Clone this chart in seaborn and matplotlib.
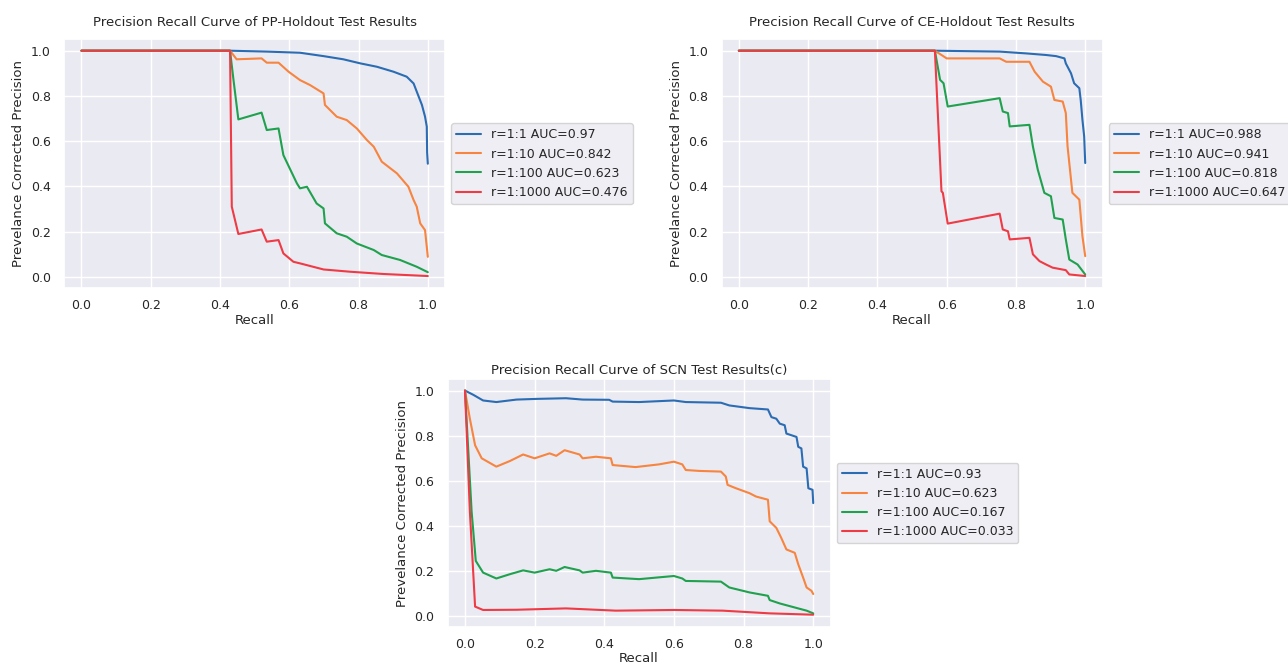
import pandas as pd
import seaborn as sns
import matplotlib.pyplot as plt

# ---- data (recall, precision per ratio) ----
labels_pp = ["r=1:1 AUC=0.97", "r=1:10 AUC=0.842", "r=1:100 AUC=0.623", "r=1:1000 AUC=0.476"]
labels_ce = ["r=1:1 AUC=0.988", "r=1:10 AUC=0.941", "r=1:100 AUC=0.818", "r=1:1000 AUC=0.647"]
labels_scn = ["r=1:1 AUC=0.93", "r=1:10 AUC=0.623", "r=1:100 AUC=0.167", "r=1:1000 AUC=0.033"]

# PP-Holdout
pp_r1_x = [0.0, 0.429, 0.535, 0.631, 0.699, 0.756, 0.805, 0.853, 0.901, 0.939, 0.959, 0.968, 0.983, 0.992, 0.997, 0.998, 1.0]
pp_r1_y = [1.0, 1.0, 0.996, 0.991, 0.976, 0.962, 0.944, 0.929, 0.907, 0.885, 0.855, 0.819, 0.760, 0.708, 0.664, 0.55, 0.50]
pp_r10_x = [0.0, 0.429, 0.448, 0.520, 0.535, 0.569, 0.598, 0.631, 0.660, 0.699, 0.703, 0.737, 0.766, 0.795, 0.824, 0.844,
            0.867, 0.911, 0.944, 0.959, 0.968, 0.978, 0.992, 1.0]
pp_r10_y = [1.0, 1.0, 0.962, 0.966, 0.947, 0.947, 0.907, 0.870, 0.848, 0.811, 0.760, 0.708, 0.693, 0.656, 0.605, 0.575,
            0.509, 0.457, 0.398, 0.339, 0.310, 0.236, 0.206, 0.088]
pp_r100_x = [0.0, 0.429, 0.439, 0.453, 0.520, 0.535, 0.569, 0.583, 0.622, 0.631, 0.651, 0.679, 0.699, 0.703, 0.737, 0.766,
             0.795, 0.844, 0.867, 0.920, 0.968, 1.0]
pp_r100_y = [1.0, 1.0, 0.870, 0.696, 0.726, 0.649, 0.656, 0.538, 0.413, 0.391, 0.398, 0.324, 0.302, 0.236, 0.192, 0.177,
             0.147, 0.118, 0.096, 0.074, 0.044, 0.020]
pp_r1000_x = [0.0, 0.429, 0.434, 0.453, 0.520, 0.535, 0.569, 0.583, 0.612, 0.631, 0.699, 0.776, 0.872, 1.0]
pp_r1000_y = [1.0, 1.0, 0.310, 0.189, 0.209, 0.155, 0.162, 0.103, 0.066, 0.059, 0.032, 0.022, 0.012, 0.003]

# CE-Holdout
ce_r1_x = [0.0, 0.566, 0.753, 0.830, 0.887, 0.916, 0.940, 0.944, 0.959, 0.968, 0.983, 0.987, 0.992, 0.997, 1.0]
ce_r1_y = [1.0, 1.0, 0.996, 0.988, 0.981, 0.976, 0.966, 0.944, 0.900, 0.856, 0.834, 0.782, 0.694, 0.621, 0.503]
ce_r10_x = [0.0, 0.566, 0.600, 0.753, 0.772, 0.839, 0.854, 0.878, 0.901, 0.911, 0.935, 0.944, 0.949, 0.963, 0.983, 0.992, 1.0]
ce_r10_y = [1.0, 1.0, 0.966, 0.966, 0.951, 0.951, 0.907, 0.863, 0.841, 0.782, 0.775, 0.724, 0.577, 0.371, 0.341, 0.179, 0.091]
ce_r100_x = [0.0, 0.566, 0.581, 0.591, 0.603, 0.753, 0.762, 0.777, 0.782, 0.839, 0.849, 0.863, 0.882, 0.901, 0.911, 0.935,
             0.944, 0.954, 0.978, 1.0]
ce_r100_y = [1.0, 1.0, 0.871, 0.856, 0.753, 0.790, 0.731, 0.724, 0.665, 0.672, 0.576, 0.474, 0.371, 0.356, 0.260, 0.253,
             0.165, 0.076, 0.054, 0.010]
ce_r1000_x = [0.0, 0.566, 0.585, 0.589, 0.603, 0.753, 0.762, 0.777, 0.782, 0.839, 0.849, 0.868, 0.887, 0.906, 0.944, 0.954, 1.0]
ce_r1000_y = [1.0, 1.0, 0.378, 0.371, 0.235, 0.279, 0.209, 0.201, 0.165, 0.172, 0.099, 0.069, 0.054, 0.040, 0.029, 0.010, 0.003]

# SCN
scn_r1_x = [0.0, 0.024, 0.052, 0.090, 0.148, 0.205, 0.290, 0.338, 0.414, 0.424, 0.500, 0.600, 0.634, 0.735, 0.759, 0.817,
            0.870, 0.880, 0.894, 0.904, 0.918, 0.923, 0.952, 0.957, 0.966, 0.971, 0.981, 0.986, 0.998, 1.0]
scn_r1_y = [1.0, 0.981, 0.956, 0.949, 0.960, 0.963, 0.966, 0.960, 0.959, 0.951, 0.949, 0.956, 0.949, 0.946, 0.934, 0.922,
            0.916, 0.882, 0.875, 0.853, 0.846, 0.809, 0.794, 0.750, 0.743, 0.662, 0.654, 0.566, 0.559, 0.500]
scn_r10_x = [0.0, 0.014, 0.029, 0.048, 0.090, 0.129, 0.167, 0.200, 0.243, 0.262, 0.286, 0.329, 0.338, 0.376, 0.419, 0.424,
             0.490, 0.557, 0.600, 0.624, 0.634, 0.672, 0.735, 0.749, 0.754, 0.778, 0.817, 0.836, 0.870, 0.875, 0.894,
             0.908, 0.923, 0.947, 0.957, 0.971, 0.981, 0.995, 1.0]
scn_r10_y = [1.0, 0.875, 0.757, 0.699, 0.662, 0.687, 0.716, 0.699, 0.721, 0.710, 0.735, 0.716, 0.699, 0.706, 0.699, 0.669,
             0.660, 0.672, 0.684, 0.672, 0.647, 0.643, 0.640, 0.618, 0.581, 0.566, 0.544, 0.529, 0.515, 0.419, 0.390,
             0.346, 0.294, 0.279, 0.228, 0.169, 0.125, 0.110, 0.096]
scn_r100_x = [0.0, 0.019, 0.031, 0.052, 0.090, 0.129, 0.167, 0.200, 0.243, 0.262, 0.286, 0.329, 0.338, 0.376, 0.419, 0.424,
              0.500, 0.600, 0.624, 0.634, 0.735, 0.759, 0.817, 0.870, 0.875, 0.904, 0.952, 0.981, 1.0]
scn_r100_y = [1.0, 0.463, 0.243, 0.191, 0.165, 0.184, 0.201, 0.191, 0.206, 0.199, 0.216, 0.201, 0.191, 0.199, 0.191, 0.169,
              0.162, 0.176, 0.165, 0.154, 0.151, 0.125, 0.103, 0.088, 0.069, 0.054, 0.034, 0.022, 0.010]
scn_r1000_x = [0.0, 0.014, 0.029, 0.052, 0.148, 0.290, 0.433, 0.600, 0.740, 0.875, 1.0]
scn_r1000_y = [1.0, 0.463, 0.040, 0.025, 0.026, 0.032, 0.022, 0.025, 0.022, 0.010, 0.004]

colors = ["#2b6cb3", "#f7843f", "#1fa14e", "#ee3b45"]


def make_df(labels, xs, ys):
    parts = []
    for lab, x, y in zip(labels, xs, ys):
        parts.append(pd.DataFrame({"Recall": x, "Precision": y, "curve": lab}))
    return pd.concat(parts, ignore_index=True)


df_pp = make_df(labels_pp, [pp_r1_x, pp_r10_x, pp_r100_x, pp_r1000_x], [pp_r1_y, pp_r10_y, pp_r100_y, pp_r1000_y])
df_ce = make_df(labels_ce, [ce_r1_x, ce_r10_x, ce_r100_x, ce_r1000_x], [ce_r1_y, ce_r10_y, ce_r100_y, ce_r1000_y])
df_scn = make_df(labels_scn, [scn_r1_x, scn_r10_x, scn_r100_x, scn_r1000_x], [scn_r1_y, scn_r10_y, scn_r100_y, scn_r1000_y])

sns.set_theme(style="darkgrid")
plt.rcParams["font.family"] = ["DejaVu Sans"]

fig = plt.figure(figsize=(12.88, 6.69), dpi=100)
ax1 = fig.add_axes([0.0498, 0.5695, 0.2958, 0.3716])
ax2 = fig.add_axes([0.5602, 0.5695, 0.2958, 0.3716])
ax3 = fig.add_axes([0.3475, 0.0630, 0.2974, 0.3700])

panels = [
    (ax1, df_pp, "Precision Recall Curve of PP-Holdout Test Results", 10),
    (ax2, df_ce, "Precision Recall Curve of CE-Holdout Test Results", 10),
    (ax3, df_scn, "Precision Recall Curve of SCN Test Results(c)", 4),
]
for ax, df, title, pad in panels:
    sns.lineplot(data=df, x="Recall", y="Precision", hue="curve", palette=colors,
                 estimator=None, sort=False, linewidth=1.5, ax=ax)
    ax.set_xlim(-0.05, 1.05)
    ax.set_ylim(-0.05, 1.05)
    ax.set_xticks([0.0, 0.2, 0.4, 0.6, 0.8, 1.0])
    ax.set_yticks([0.0, 0.2, 0.4, 0.6, 0.8, 1.0])
    ax.tick_params(labelsize=9)
    ax.tick_params(axis="x", pad=2)
    ax.set_title(title, fontsize=9.5, pad=pad)
    ax.set_xlabel("Recall", fontsize=9.5, labelpad=1)
    ax.set_ylabel("Prevelance Corrected Precision", fontsize=9.5)
    ax.legend(title=None, loc="center left", bbox_to_anchor=(1.0, 0.5), fontsize=9)

fig.savefig("out.png", dpi=100)
